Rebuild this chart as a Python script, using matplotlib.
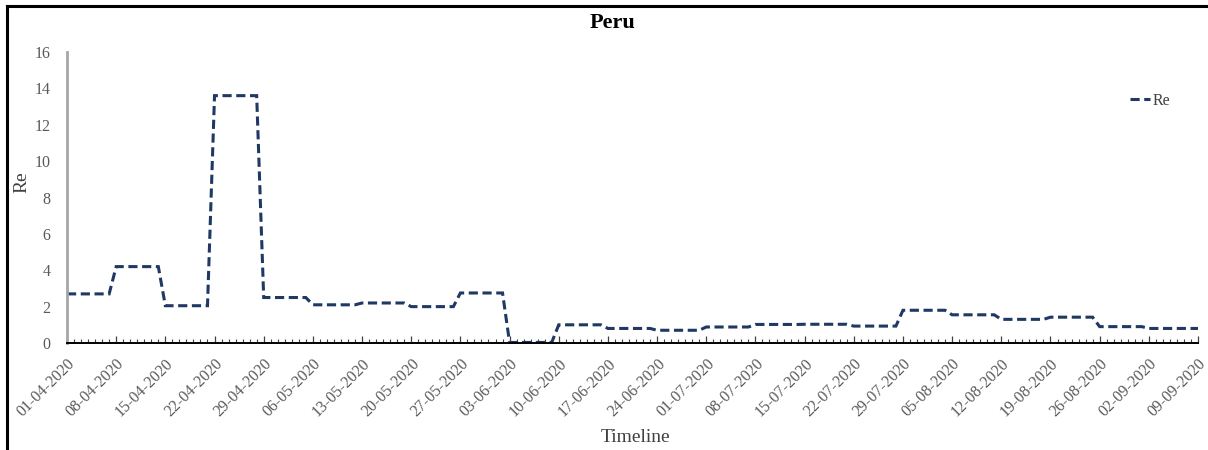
import matplotlib
matplotlib.use("Agg")
import matplotlib.pyplot as plt
import matplotlib.dates as mdates
from matplotlib.lines import Line2D
import numpy as np
import pandas as pd

# ---- data ----
start_date = "2020-04-01"
end_date = "2020-09-09"

# daily Re values (01-04-2020 .. 09-09-2020), one row per week
re_values = [
    2.7, 2.7, 2.7, 2.7, 2.7, 2.7, 2.7,
    4.2, 4.2, 4.2, 4.2, 4.2, 4.2, 4.2,
    2.05, 2.05, 2.05, 2.05, 2.05, 2.05, 2.05,
    13.6, 13.6, 13.6, 13.6, 13.6, 13.6, 13.6,
    2.5, 2.5, 2.5, 2.5, 2.5, 2.5, 2.5,
    2.1, 2.1, 2.1, 2.1, 2.1, 2.1, 2.1,
    2.2, 2.2, 2.2, 2.2, 2.2, 2.2, 2.2,
    2.0, 2.0, 2.0, 2.0, 2.0, 2.0, 2.0,
    2.75, 2.75, 2.75, 2.75, 2.75, 2.75, 2.75,
    0.03, 0.03, 0.03, 0.03, 0.03, 0.03, 0.03,
    1.0, 1.0, 1.0, 1.0, 1.0, 1.0, 1.0,
    0.8, 0.8, 0.8, 0.8, 0.8, 0.8, 0.8,
    0.7, 0.7, 0.7, 0.7, 0.7, 0.7, 0.7,
    0.88, 0.88, 0.88, 0.88, 0.88, 0.88, 0.88,
    1.02, 1.02, 1.02, 1.02, 1.02, 1.02, 1.02,
    1.03, 1.03, 1.03, 1.03, 1.03, 1.03, 1.03,
    0.93, 0.93, 0.93, 0.93, 0.93, 0.93, 0.93,
    1.8, 1.8, 1.8, 1.8, 1.8, 1.8, 1.8,
    1.55, 1.55, 1.55, 1.55, 1.55, 1.55, 1.55,
    1.3, 1.3, 1.3, 1.3, 1.3, 1.3, 1.3,
    1.42, 1.42, 1.42, 1.42, 1.42, 1.42, 1.42,
    0.9, 0.9, 0.9, 0.9, 0.9, 0.9, 0.9,
    0.8, 0.8, 0.8, 0.8, 0.8, 0.8, 0.8,
    0.8,
]

tick_labels = [
    "01-04-2020", "08-04-2020", "15-04-2020", "22-04-2020", "29-04-2020",
    "06-05-2020", "13-05-2020", "20-05-2020", "27-05-2020", "03-06-2020",
    "10-06-2020", "17-06-2020", "24-06-2020", "01-07-2020", "08-07-2020",
    "15-07-2020", "22-07-2020", "29-07-2020", "05-08-2020", "12-08-2020",
    "19-08-2020", "26-08-2020", "02-09-2020", "09-09-2020",
]
y_ticks = [0, 2, 4, 6, 8, 10, 12, 14, 16]

series_name = "Re"
title = "Peru"
x_label = "Timeline"
y_label = "Re"

# ---- plot ----
W, H = 1208, 450
fig = plt.figure(figsize=(W / 100, H / 100), dpi=100)
serif = ["Liberation Serif", "DejaVu Serif"]

ax = fig.add_axes([67 / W, 1 - 343 / H, (1198 - 67) / W, (343 - 52) / H])

dates = pd.date_range(start_date, end_date, freq="D")
line_color = "#1F3864"
ax.plot(dates, re_values, color=line_color, lw=2.2,
        linestyle=(0, (3.0, 1.5)), label=series_name,
        solid_joinstyle="miter", dash_joinstyle="miter")

ax.set_xlim(dates[0], dates[-1])
ax.set_ylim(0, 16)
ax.set_yticks(y_ticks)
ax.set_yticklabels([str(v) for v in y_ticks], fontfamily=serif, fontsize=11.5,
                   color="#595959")
ax.tick_params(axis="y", length=0, pad=12)

tick_dates = pd.to_datetime(tick_labels, format="%d-%m-%Y")
ax.set_xticks(tick_dates)
ax.set_xticklabels(tick_labels, rotation=45, ha="right", va="top",
                   rotation_mode="anchor", fontfamily=serif, fontsize=11.5,
                   color="#595959")
ax.xaxis.set_minor_locator(mdates.DayLocator())
ax.tick_params(axis="x", which="major", direction="in", length=5, width=0.9,
               color="#404040", pad=9)
ax.tick_params(axis="x", which="minor", direction="in", length=3, width=0.8,
               color="#404040")

for s in ["top", "right"]:
    ax.spines[s].set_visible(False)
ax.spines["left"].set_color("#A6A6A6")
ax.spines["left"].set_linewidth(2.0)
ax.spines["bottom"].set_color("#000000")
ax.spines["bottom"].set_linewidth(1.4)

# labels and title
fig.text(635 / W, 1 - 438 / H, x_label, ha="center", va="center",
         fontfamily=serif, fontsize=14, color="#404040")
fig.text(22 / W, 1 - 182 / H, y_label, ha="center", va="center",
         rotation=90, fontfamily=serif, fontsize=14, color="#404040")
fig.text(612 / W, 1 - 23 / H, title, ha="center", va="center",
         fontfamily=serif, fontsize=16, fontweight="bold", color="#000000")

leg = ax.legend(loc="center left", bbox_to_anchor=(1116 / W, 1 - 101 / H),
                bbox_transform=fig.transFigure, frameon=False,
                handlelength=1.2, handletextpad=0.2,
                prop={"family": serif, "size": 11.5})
for t in leg.get_texts():
    t.set_color("#404040")

# outer frame (top and left edges visible)
fig.add_artist(Line2D([7.5 / W, 7.5 / W], [0, 1 - 6 / H], color="black",
                      lw=2.2, transform=fig.transFigure))
fig.add_artist(Line2D([7.5 / W, 1], [1 - 6 / H, 1 - 6 / H], color="black",
                      lw=2.2, transform=fig.transFigure))

fig.savefig("out.png", dpi=100)
